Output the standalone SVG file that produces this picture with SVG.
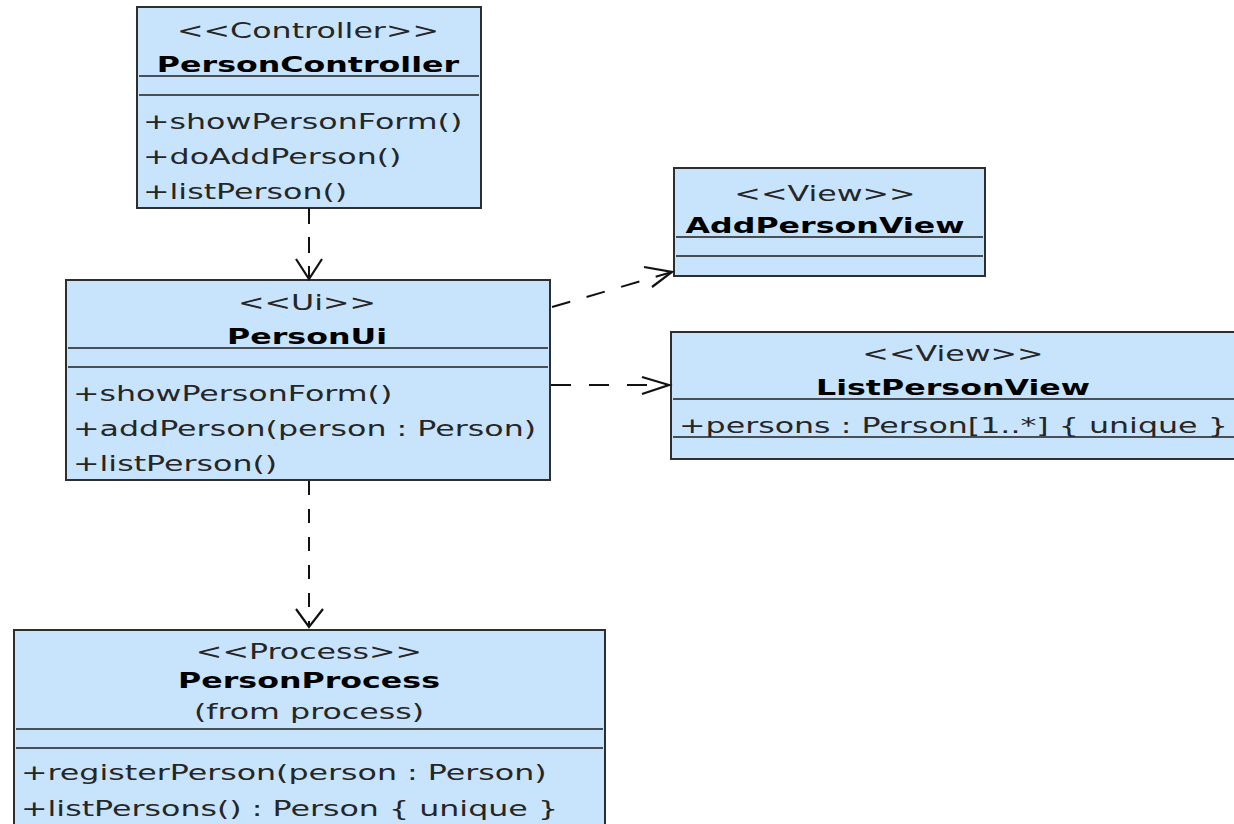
<svg xmlns="http://www.w3.org/2000/svg" width="1234" height="824" viewBox="0 0 1234 824">
<style>
.box{fill:#c8e4fc;stroke:#2e2e2e;stroke-width:2}
.sep{stroke:#1e1e1e;stroke-width:1.6}
text{font-family:"DejaVu Sans","Liberation Sans",sans-serif;font-size:22px;fill:#262626}
.st{text-anchor:middle}
.nm{text-anchor:middle;font-weight:bold;fill:#000}
.dep{fill:none;stroke:#111;stroke-width:2}
.head{fill:none;stroke:#111;stroke-width:2.2;stroke-linejoin:miter}
</style>
<rect width="1234" height="824" fill="#ffffff"/>

<g id="PersonController">
<rect class="box" x="137" y="7" width="344" height="201"/>
<line class="sep" x1="139" y1="76" x2="479" y2="76"/>
<line class="sep" x1="139" y1="95" x2="479" y2="95"/>
<text class="st" transform="translate(308,38) scale(1.44,1)">&lt;&lt;Controller&gt;&gt;</text>
<text class="nm" transform="translate(308,72) scale(1.44,1)">PersonController</text>
<text transform="translate(143,129) scale(1.44,1)">+showPersonForm()</text>
<text transform="translate(143,164) scale(1.44,1)">+doAddPerson()</text>
<text transform="translate(143,199) scale(1.44,1)">+listPerson()</text>
</g>

<g id="PersonUi">
<rect class="box" x="66" y="280" width="484" height="200"/>
<line class="sep" x1="68" y1="348" x2="548" y2="348"/>
<line class="sep" x1="68" y1="367" x2="548" y2="367"/>
<text class="st" transform="translate(307,310) scale(1.44,1)">&lt;&lt;Ui&gt;&gt;</text>
<text class="nm" transform="translate(307,344) scale(1.44,1)">PersonUi</text>
<text transform="translate(73,401) scale(1.44,1)">+showPersonForm()</text>
<text transform="translate(73,436) scale(1.44,1)">+addPerson(person : Person)</text>
<text transform="translate(73,471) scale(1.44,1)">+listPerson()</text>
</g>

<g id="AddPersonView">
<rect class="box" x="674" y="168" width="311" height="108"/>
<line class="sep" x1="676" y1="237" x2="983" y2="237"/>
<line class="sep" x1="676" y1="256" x2="983" y2="256"/>
<text class="st" transform="translate(825,201) scale(1.44,1)">&lt;&lt;View&gt;&gt;</text>
<text class="nm" transform="translate(825,233) scale(1.44,1)">AddPersonView</text>
</g>

<g id="ListPersonView">
<rect class="box" x="671" y="332" width="580" height="127"/>
<line class="sep" x1="673" y1="399" x2="1240" y2="399"/>
<line class="sep" x1="673" y1="437" x2="1240" y2="437"/>
<text class="st" transform="translate(953,361) scale(1.44,1)">&lt;&lt;View&gt;&gt;</text>
<text class="nm" transform="translate(953,395) scale(1.44,1)">ListPersonView</text>
<text transform="translate(679,433) scale(1.44,1)">+persons : Person[1..*] { unique }</text>
</g>

<g id="PersonProcess">
<rect class="box" x="14" y="630" width="591" height="210"/>
<line class="sep" x1="16" y1="729" x2="603" y2="729"/>
<line class="sep" x1="16" y1="748" x2="603" y2="748"/>
<text class="st" transform="translate(309,659) scale(1.44,1)">&lt;&lt;Process&gt;&gt;</text>
<text class="nm" transform="translate(309,688) scale(1.44,1)">PersonProcess</text>
<text class="st" transform="translate(309,719) scale(1.44,1)">(from process)</text>
<text transform="translate(21,780) scale(1.44,1)">+registerPerson(person : Person)</text>
<text transform="translate(21,816) scale(1.44,1)">+listPersons() : Person { unique }</text>
</g>

<g id="connectors">
<line class="dep" x1="309" y1="208" x2="309" y2="279" stroke-dasharray="16 13"/>
<polyline class="head" points="296,259 309,279 322,259"/>
<line class="dep" x1="309" y1="481" x2="309" y2="627" stroke-dasharray="14 14"/>
<polyline class="head" points="296,609 309,627 323,609"/>
<line class="dep" x1="551" y1="385" x2="669" y2="385" stroke-dasharray="20 18"/>
<polyline class="head" points="642,377 669,385 642,394"/>
<line class="dep" x1="552" y1="307" x2="672" y2="272" stroke-dasharray="19 17"/>
<polyline class="head" points="644,267 672,272 652,287"/>
</g>
</svg>
